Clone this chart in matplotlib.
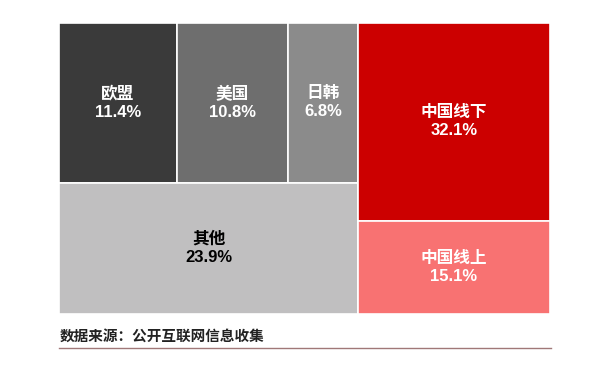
import matplotlib
matplotlib.use("Agg")
import matplotlib.pyplot as plt
from matplotlib.lines import Line2D

plt.rcParams['font.family'] = ['Liberation Sans', 'Noto Sans CJK SC', 'DejaVu Sans']

# 数据
regions = ["欧盟", "美国", "日韩", "其他", "中国线下", "中国线上"]
shares = [11.4, 10.8, 6.8, 23.9, 32.1, 15.1]
colors = ["#3a3a3a", "#6e6e6e", "#8b8b8b", "#c0bfc0", "#cc0000", "#f87272"]
text_colors = ["white", "white", "white", "black", "white", "white"]
source = "数据来源：公开互联网信息收集"

LEFT_FRAC = 0.609   # 左侧(海外)所占宽度, 按原图

fig = plt.figure(figsize=(6.04, 3.72), dpi=100)
ax = fig.add_axes([59/604, 1-314/372, 491/604, 291/372])

# 计算各块位置
rects = []
top = shares[:3]
left_total = sum(shares[:4])
top_h = sum(top) / left_total
x = 0
for v in top:
    w = v / sum(top) * LEFT_FRAC
    rects.append((x, 1 - top_h, w, top_h))
    x += w
rects.append((0, 0, LEFT_FRAC, 1 - top_h))
cn_total = shares[4] + shares[5]
off_h = shares[4] / cn_total
rects.append((LEFT_FRAC, 1 - off_h, 1 - LEFT_FRAC, off_h))
rects.append((LEFT_FRAC, 0, 1 - LEFT_FRAC, 1 - off_h))

for (x, y, w, h), name, v, c, tc in zip(rects, regions, shares, colors, text_colors):
    ax.bar(x, h, width=w, bottom=y, align="edge", color=c, edgecolor="white", linewidth=1.2)
    ax.text(x + w/2, y + h/2, name + "\n" + f"{v:.1f}%", ha="center", va="center",
            color=tc, fontsize=12, fontweight="bold", linespacing=1.25)

ax.set_xlim(0, 1)
ax.set_ylim(0, 1)
ax.axis("off")

fig.text(60/604, 1-337/372, source, ha="left", va="center", fontsize=10.5, fontweight="bold",
         color="#222222")
fig.add_artist(Line2D([59/604, 551/604], [1-348/372, 1-348/372], color="#a07878", lw=1))

fig.savefig("out.png", dpi=100, facecolor="white")
